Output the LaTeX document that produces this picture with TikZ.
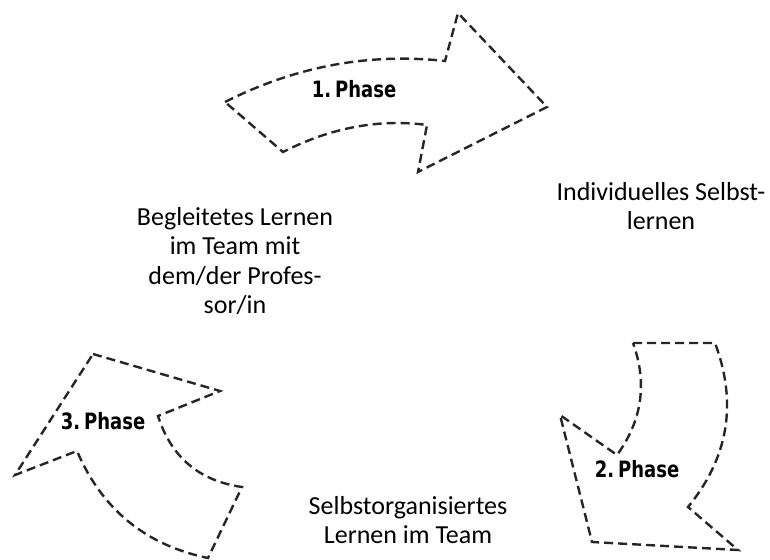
\documentclass[tikz,border=0pt]{standalone}
\usepackage{fontspec}
\setmainfont{Carlito}
\newfontfamily\phasefont{DejaVu Sans}[FakeStretch=0.8]
\usepackage{tikz}

\begin{document}
\begin{tikzpicture}[x=1pt, y=-1pt,
  every node/.style={font=\fontsize{26}{29.5}\selectfont, align=center},
  phasearrow/.style={draw=black!85, line width=2.4pt, dash pattern=on 9pt off 5pt, line join=miter},
  phaselabel/.style={font=\phasefont\fontsize{22.5}{24}\selectfont\bfseries}]
	\useasboundingbox (0,0) rectangle (770,559);
	\draw[phasearrow] (225,102) .. controls (295.7,66.3) and (369,52.7) .. (445,61) -- (458,13) -- (547,107) -- (418,172) -- (427,125)
	  .. controls (379.7,118.7) and (331.3,127.3) .. (283,152) -- cycle;
	\draw[phasearrow] (633,343) -- (715,343) .. controls (737.5,402.9) and (728.5,457.5) .. (688,507) -- (738,550) -- (592,542) -- (560,415) -- (617,455)
	  .. controls (642.1,420.5) and (647.5,383.1) .. cycle;
	\draw[phasearrow] (93,354) -- (220,391) -- (158,416) .. controls (171.2,457.2) and (199.2,480.9) .. (242,487) -- (208,558)
	  .. controls (145.7,545.1) and (102,509.4) .. (77,451) -- (15,475) -- cycle;
	\node[phaselabel] (p1) at (354,89) {1.\hspace{4pt}Phase};
	\node[phaselabel] (p2) at (637,469) {2.\hspace{4pt}Phase};
	\node[phaselabel] (p3) at (103,421) {3.\hspace{4pt}Phase};
	\node (selbst) at (661,206) {Individuelles Selbst-\\lernen};
	\node (begleitet) at (235,261) {Begleitetes Lernen\\ im Team mit\\ dem/der Profes-\\ sor/in};
	\node (team) at (408,520) {Selbstorganisiertes\\ Lernen im Team};
\end{tikzpicture}
\end{document}
